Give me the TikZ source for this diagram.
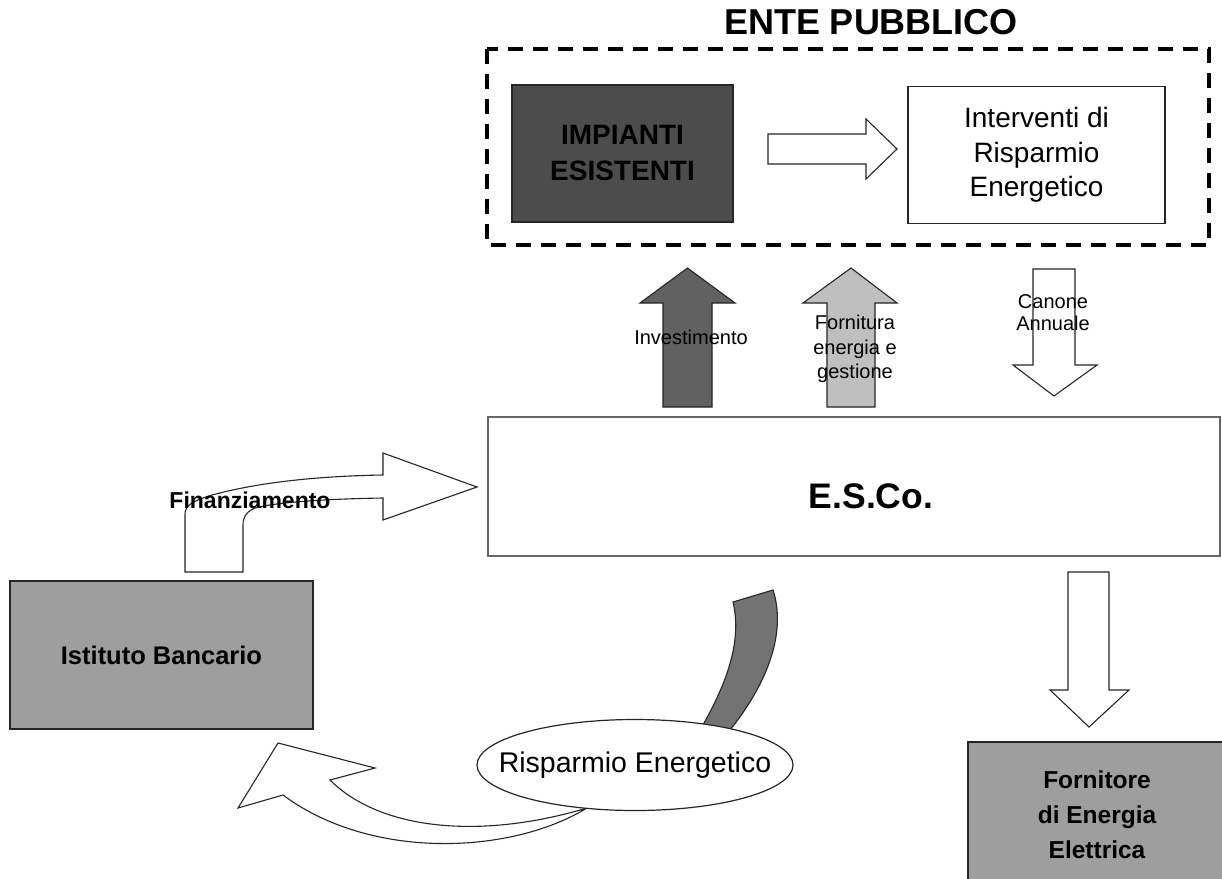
\documentclass[tikz,border=0pt]{standalone}
\usepackage{fontspec}
\setmainfont{Liberation Sans}
\usetikzlibrary{shapes.geometric}
\begin{document}
\begin{tikzpicture}[x=1pt,y=-1pt,
  box/.style={draw=black!85, line width=1.3pt, rectangle, inner sep=0pt, align=center},
  blk/.style={draw=black!85, line width=1.1pt, line join=miter},
  lbl/.style={inner sep=0pt, align=center, font=\fontsize{20}{24.5}\selectfont},
  bigb/.style={inner sep=0pt, align=center}
]
\clip (0,0) rectangle (1222,878);
\fill[white] (0,0) rectangle (1222,878);

% title and dashed frame
\node[bigb, font=\fontsize{36}{40}\selectfont\bfseries] (title) at (871,22) {ENTE PUBBLICO};
\draw[line width=3.5pt, dash pattern=on 15pt off 10pt] (487,49) rectangle (1209,245);

% boxes
\node[box, fill=black!70, minimum width=221pt, minimum height=137pt,
      font=\fontsize{28}{36}\selectfont\bfseries] (imp) at (622.5,153.5) {IMPIANTI\\ESISTENTI};
\node[box, fill=white, minimum width=257pt, minimum height=137pt,
      font=\fontsize{28}{34.5}\selectfont] (int) at (1036.5,155) {Interventi di\\Risparmio\\Energetico};
\node[box, draw=black!60, fill=white, minimum width=732pt, minimum height=139pt] (esco) at (854,486.5) {};
\node[bigb, font=\fontsize{35.5}{40}\selectfont\bfseries] (escot) at (871,496) {E.S.Co.};
\node[box, fill=black!38, minimum width=303pt, minimum height=148pt,
      font=\fontsize{25.5}{30}\selectfont\bfseries] (ist) at (161.5,655) {Istituto Bancario};
\node[box, fill=black!38, minimum width=258pt, minimum height=146pt,
      font=\fontsize{24.5}{35}\selectfont\bfseries] (forn) at (1097,815) {Fornitore\\di Energia\\Elettrica};

% hollow arrow impianti -> interventi
\draw[blk, fill=white] (768,134) -- (866,134) -- (866,119) -- (897,149) -- (866,179) -- (866,164) -- (768,164) -- cycle;

% up arrows
\draw[blk, fill=black!62] (663,407) -- (663,303) -- (640,303) -- (687.5,268) -- (735,303) -- (712,303) -- (712,407) -- cycle;
\draw[blk, fill=black!25] (827,407) -- (827,303) -- (803,303) -- (851,268) -- (897,303) -- (875,303) -- (875,407) -- cycle;
% down arrow canone
\draw[blk, fill=white] (1033,269) -- (1075,269) -- (1075,365) -- (1097,365) -- (1054,396) -- (1013,365) -- (1033,365) -- cycle;
% down arrow to fornitore
\draw[blk, fill=white] (1068,572) -- (1109,572) -- (1109,690) -- (1129,690) -- (1089,727) -- (1050,690) -- (1068,690) -- cycle;

% bent arrow finanziamento
\draw[blk, fill=white] (185,572) -- (185,514) .. controls (185,506) and (192,501) .. (212,495)
  .. controls (260,482) and (320,476) .. (383,475) -- (383,453) -- (477,487) -- (383,520) -- (383,498)
  .. controls (320,499) and (272,503) .. (255,508) .. controls (246,512) and (243,517) .. (243,525)
  -- (243,572) -- cycle;

% dark curved band from ESCo
\draw[blk, fill=black!55] (733,602) -- (773,590) .. controls (786,630) and (770,680) .. (730,730)
  -- (700,730) .. controls (728,682) and (742,640) .. (733,602) -- cycle;

% curved arrow to bank
\draw[blk, fill=white] (238,808) -- (278,743) -- (375,768) -- (330,780)
  .. controls (380,830) and (480,840) .. (587,808)
  .. controls (510,855) and (370,860) .. (283,795) -- cycle;

% ellipse
\node[ellipse, draw=black!85, line width=1.2pt, fill=white, minimum width=316pt, minimum height=91pt, inner sep=0pt,
      label={[inner sep=0pt, font=\fontsize{28.5}{30}\selectfont]center:Risparmio Energetico}] (risp) at (635,765) {};

% labels
\node[bigb, font=\fontsize{23}{26}\selectfont\bfseries] (fin) at (250,500) {Finanziamento};
\node[lbl] (inv) at (691,337) {Investimento};
\node[lbl] (fge) at (855,349) {Fornitura\\energia e\\gestione};
\node[lbl, font=\fontsize{20}{22}\selectfont] (can) at (1053,313) {Canone\\Annuale};
\end{tikzpicture}
\end{document}
